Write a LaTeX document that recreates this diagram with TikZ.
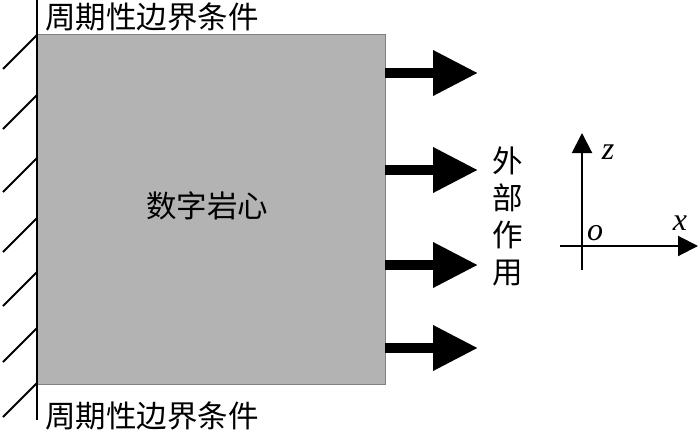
\documentclass[tikz,border=0pt]{standalone}
\usepackage{fontspec}
\setmainfont{Liberation Serif}
\newfontfamily\cjk{Noto Sans CJK SC}
\usetikzlibrary{arrows.meta}
\definecolor{rockgray}{HTML}{B3B3B3}
\definecolor{rockedge}{HTML}{808080}
\tikzset{
  rock/.style={draw=rockedge, line width=1pt, fill=rockgray, minimum width=348pt, minimum height=349pt, inner sep=0pt},
  cjklabel/.style={font=\cjk\fontsize{30.5}{37}\selectfont, inner sep=0pt},
  axlabel/.style={font=\fontsize{32}{34}\selectfont\itshape, inner sep=0pt},
  wall/.style={line width=2.5pt},
  hatch/.style={line width=2pt},
  loadarrow/.style={line width=10pt, -{Triangle[length=45pt,width=43pt]}},
  axisline/.style={line width=2pt, -{Triangle[length=20pt,width=20pt]}}
}
\begin{document}
\begin{tikzpicture}[x=1pt,y=-1pt]
\useasboundingbox (0,0) rectangle (700,433);
% digital core
\node[rock] (core) at (211,209.5) {};
\node[cjklabel] (coretext) at (207,206) {数字岩心};
% wall
\coordinate (walltop) at (37,0);
\coordinate (wallbot) at (37,420);
\draw[wall] (walltop) -- (wallbot);
\foreach \y [count=\i] in {35,95,158,218,272,328,383}{
  \coordinate (h\i) at (37,\y);
  \coordinate (hh\i) at (3,\y+34);
  \draw[hatch] (h\i) -- (hh\i);
}
% labels
\node[cjklabel, anchor=west] (toplabel) at (45,17) {周期性边界条件};
\node[cjklabel, anchor=west] (botlabel) at (45,416) {周期性边界条件};
% load arrows
\foreach \y [count=\i] in {73,170,265,348}{
  \coordinate (a\i) at (385,\y);
  \coordinate (b\i) at (478,\y);
  \draw[loadarrow] (a\i) -- (b\i);
}
\node[cjklabel, align=center] (load) at (508,216) {外\\部\\作\\用};
% axes
\coordinate (o) at (582,246);
\coordinate (zb) at (582,270);
\coordinate (zt) at (582,133);
\coordinate (xl) at (560,246);
\coordinate (xr) at (698,246);
\draw[axisline] (zb) -- (zt);
\draw[axisline] (xl) -- (xr);
\node[axlabel] (zlab) at (608,152) {z};
\node[axlabel] (olab) at (595,233) {o};
\node[axlabel] (xlab) at (680,223) {x};
\end{tikzpicture}
\end{document}
